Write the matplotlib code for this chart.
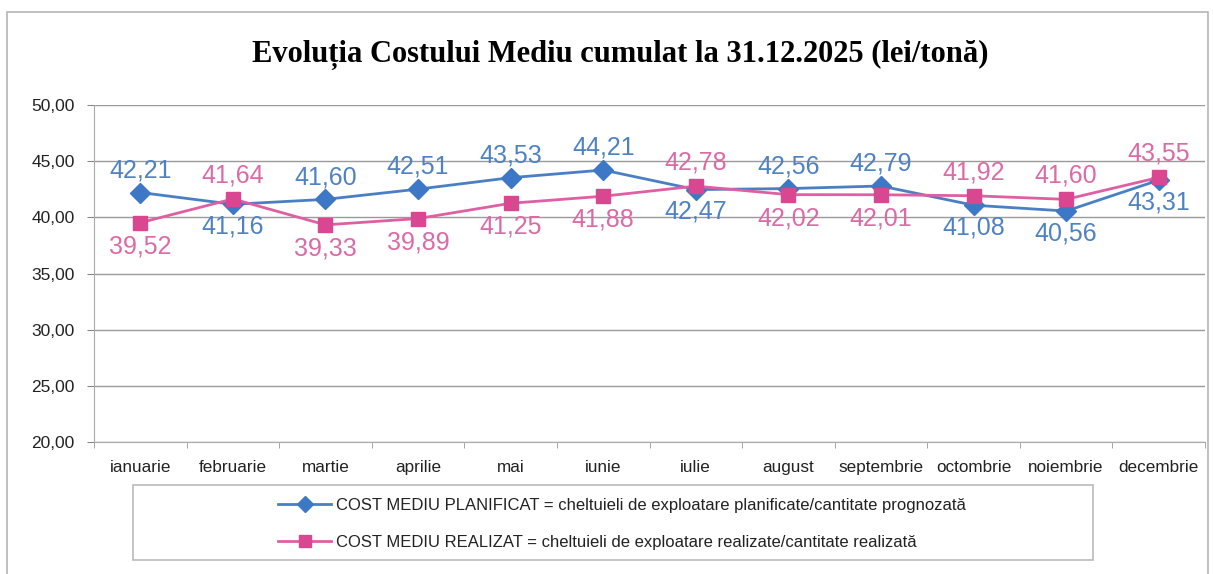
import matplotlib.pyplot as plt
from matplotlib.patches import Rectangle
from matplotlib.lines import Line2D

luni = ['ianuarie', 'februarie', 'martie', 'aprilie', 'mai', 'iunie', 'iulie',
        'august', 'septembrie', 'octombrie', 'noiembrie', 'decembrie']
planificat = [42.21, 41.16, 41.60, 42.51, 43.53, 44.21, 42.47, 42.56, 42.79, 41.08, 40.56, 43.31]
realizat = [39.52, 41.64, 39.33, 39.89, 41.25, 41.88, 42.78, 42.02, 42.01, 41.92, 41.60, 43.55]
# pozitia etichetei: 1 = deasupra, -1 = dedesubt
poz_plan = [1, -1, 1, 1, 1, 1, -1, 1, 1, -1, -1, -1]
poz_real = [-1, 1, -1, -1, -1, -1, 1, -1, -1, 1, 1, 1]
y_ticks = [20, 25, 30, 35, 40, 45, 50]

titlu = 'Evoluția Costului Mediu cumulat la 31.12.2025 (lei/tonă)'
leg_plan = 'COST MEDIU PLANIFICAT = cheltuieli de exploatare planificate/cantitate prognozată'
leg_real = 'COST MEDIU REALIZAT = cheltuieli de exploatare realizate/cantitate realizată'

albastru = '#4a7fc4'
albastru_txt = '#4f82c2'
roz = '#df5fa3'
roz_txt = '#dc6aa6'

plt.rcParams['font.family'] = ['Liberation Sans', 'DejaVu Sans']

W, H = 1213, 574
fig = plt.figure(figsize=(W / 100, H / 100), dpi=100)

# chenar exterior
fig.patches.append(Rectangle((7 / W, -0.01), 1201 / W, 1 - 12 / H + 0.01, transform=fig.transFigure,
                             fill=False, edgecolor='#b5b5b5', lw=1.2))

ax = fig.add_axes([94 / W, 1 - 442 / H, 1111 / W, 337 / H])
x = list(range(len(luni)))

ax.plot(x, planificat, color=albastru, lw=2, marker='D', ms=10, mfc='#3d78c6', mec='#3d78c6', zorder=4)
ax.plot(x, realizat, color=roz, lw=2, marker='s', ms=9.5, mfc='#d94790', mec='#d94790', zorder=5)

for i in x:
    ax.annotate(f'{planificat[i]:.2f}'.replace('.', ','), (i, planificat[i]),
                xytext=(0, 16 * poz_plan[i]), textcoords='offset points',
                ha='center', va='center', fontsize=18, color=albastru_txt)
    ax.annotate(f'{realizat[i]:.2f}'.replace('.', ','), (i, realizat[i]),
                xytext=(0, 17 * poz_real[i]), textcoords='offset points',
                ha='center', va='center', fontsize=18, color=roz_txt)

ax.set_xlim(-0.5, len(luni) - 0.5)
ax.set_ylim(20, 50)
ax.set_yticks(y_ticks)
ax.set_yticklabels([f'{v:.2f}'.replace('.', ',') for v in y_ticks], fontsize=12.5, color='#222222')
ax.set_xticks(x)
ax.set_xticklabels(luni, fontsize=12.3, color='#222222')
ax.set_xticks([i - 0.5 for i in range(len(luni) + 1)], minor=True)
ax.tick_params(axis='x', which='major', length=0, pad=13)
ax.tick_params(axis='x', which='minor', length=4, color='#999999')
ax.tick_params(axis='y', length=5, color='#888888', pad=9)
ax.grid(axis='y', color='#9a9a9a', lw=1)
ax.set_axisbelow(True)
for s in ['top', 'right']:
    ax.spines[s].set_visible(False)
ax.spines['left'].set_color('#aaaaaa')
ax.spines['bottom'].set_color('#aaaaaa')

fig.text(620 / W, 1 - 55 / H, titlu, ha='center', va='center', fontsize=22,
         fontweight='bold', family=['Liberation Serif', 'DejaVu Serif'])

# legenda
fig.patches.append(Rectangle((133 / W, 1 - 560 / H), 960 / W, 75 / H, transform=fig.transFigure,
                             fill=False, edgecolor='#bbbbbb', lw=1.2))
handles = [Line2D([], [], color=albastru, lw=2, marker='D', ms=8, mfc='#3d78c6', mec='#3d78c6'),
           Line2D([], [], color=roz, lw=2, marker='s', ms=8.5, mfc='#d94790', mec='#d94790')]
fig.legend(handles, [leg_plan, leg_real], loc='center left', bbox_to_anchor=(263 / W, 1 - 524 / H),
           frameon=False, fontsize=12, handlelength=3.2, labelspacing=1.35, handletextpad=0.25,
           labelcolor='#222222')

fig.savefig('out.png', dpi=100)
